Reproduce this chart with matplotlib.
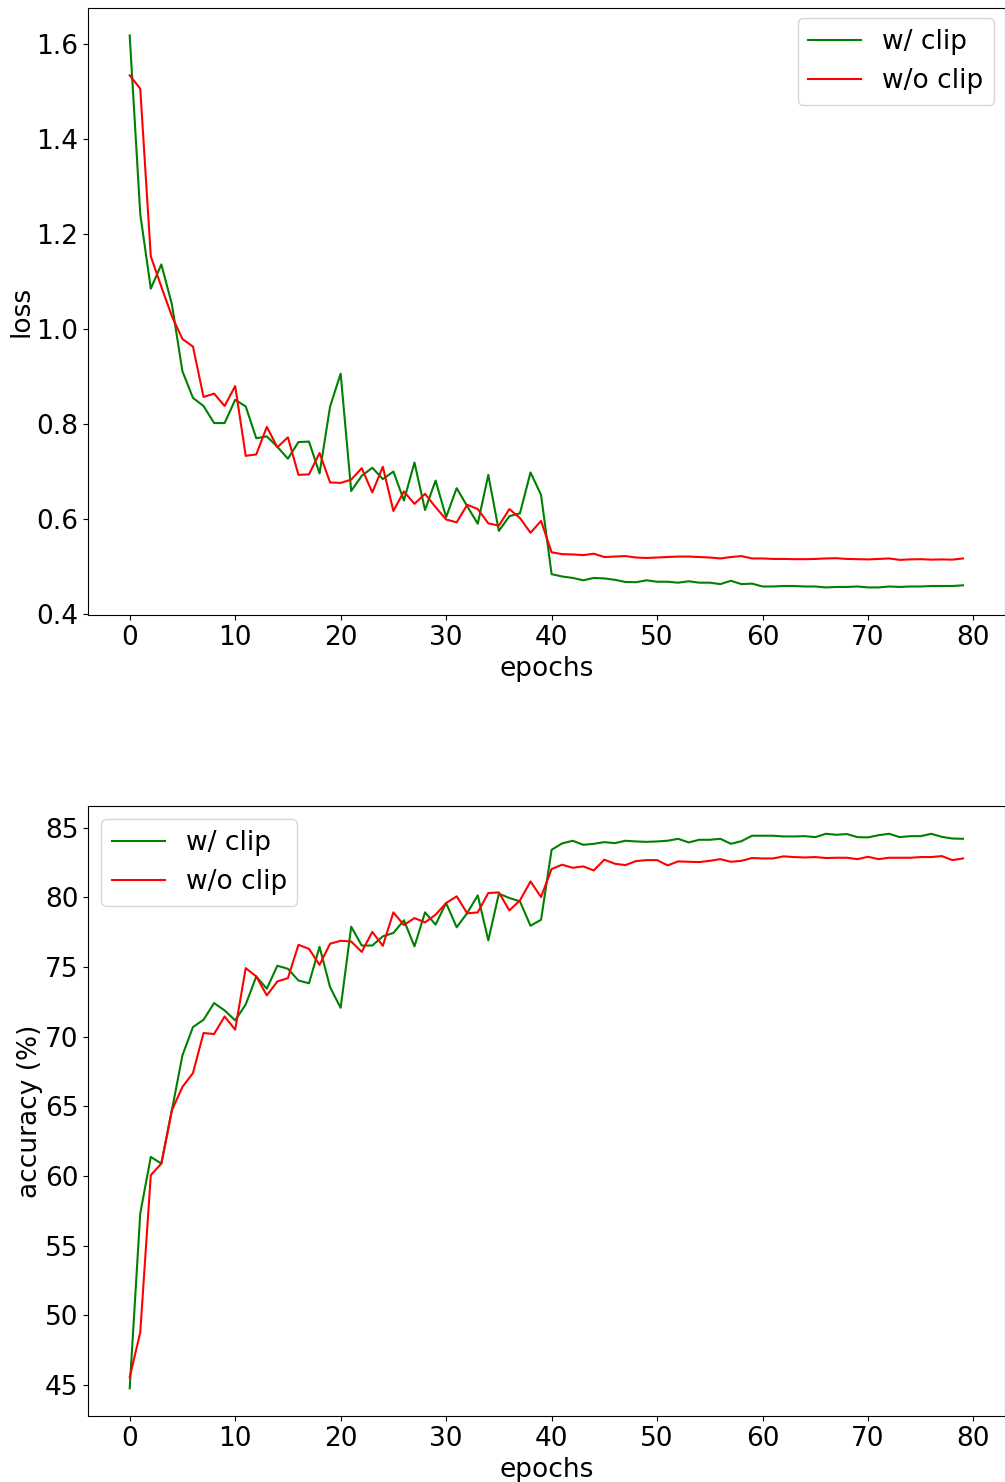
import numpy as np
import matplotlib
matplotlib.use('Agg')
import matplotlib.pyplot as plt

# epochs 0..79
epochs = np.arange(80)

loss_clip = [
    1.617, 1.241, 1.084, 1.135, 1.051, 0.910, 0.854, 0.837, 0.801, 0.801,
    0.850, 0.836, 0.769, 0.773, 0.751, 0.726, 0.761, 0.762, 0.695, 0.836,
    0.905, 0.658, 0.690, 0.707, 0.683, 0.699, 0.638, 0.718, 0.618, 0.680,
    0.603, 0.664, 0.626, 0.589, 0.692, 0.574, 0.605, 0.611, 0.697, 0.650,
    0.483, 0.478, 0.475, 0.470, 0.475, 0.474, 0.471, 0.4665, 0.466, 0.470,
    0.467, 0.467, 0.465, 0.468, 0.465, 0.465, 0.462, 0.469, 0.462, 0.463,
    0.457, 0.457, 0.458, 0.458, 0.457, 0.457, 0.455, 0.456, 0.456, 0.457,
    0.455, 0.455, 0.457, 0.456, 0.457, 0.457, 0.458, 0.458, 0.458, 0.4595,
]
loss_noclip = [
    1.533, 1.505, 1.152, 1.088, 1.026, 0.978, 0.962, 0.856, 0.863, 0.837,
    0.879, 0.732, 0.735, 0.793, 0.750, 0.771, 0.692, 0.693, 0.738, 0.676,
    0.675, 0.682, 0.706, 0.655, 0.709, 0.616, 0.657, 0.631, 0.652, 0.624,
    0.598, 0.592, 0.629, 0.620, 0.590, 0.585, 0.620, 0.601, 0.570, 0.595,
    0.529, 0.525, 0.5245, 0.523, 0.526, 0.519, 0.520, 0.521, 0.518, 0.517,
    0.518, 0.519, 0.520, 0.520, 0.519, 0.518, 0.516, 0.519, 0.521, 0.516,
    0.516, 0.515, 0.515, 0.5145, 0.5145, 0.515, 0.516, 0.5165, 0.515, 0.5145,
    0.514, 0.515, 0.516, 0.513, 0.514, 0.5145, 0.5135, 0.514, 0.5135, 0.516,
]

acc_clip = [
    44.77, 57.32, 61.38, 60.90, 64.73, 68.67, 70.70, 71.22, 72.42, 71.89,
    71.18, 72.32, 74.33, 73.45, 75.10, 74.88, 74.04, 73.84, 76.46, 73.55,
    72.08, 77.90, 76.55, 76.55, 77.21, 77.45, 78.36, 76.49, 78.93, 78.05,
    79.60, 77.86, 78.88, 80.15, 76.92, 80.27, 79.96, 79.72, 77.97, 78.40,
    83.42, 83.88, 84.07, 83.78, 83.85, 83.97, 83.90, 84.07, 84.02, 83.99,
    84.02, 84.07, 84.21, 83.95, 84.14, 84.14, 84.21, 83.85, 84.04, 84.43,
    84.43, 84.43, 84.38, 84.38, 84.40, 84.33, 84.57, 84.50, 84.55, 84.33,
    84.31, 84.47, 84.57, 84.33, 84.40, 84.40, 84.57, 84.35, 84.23, 84.21,
]
acc_noclip = [
    45.56, 48.79, 60.07, 60.90, 64.73, 66.40, 67.40, 70.27, 70.20, 71.46,
    70.51, 74.93, 74.33, 72.97, 73.97, 74.21, 76.60, 76.31, 75.16, 76.68,
    76.89, 76.84, 76.09, 77.53, 76.53, 78.93, 78.02, 78.52, 78.21, 78.76,
    79.60, 80.08, 78.86, 78.93, 80.32, 80.36, 79.07, 79.79, 81.15, 80.03,
    82.04, 82.35, 82.13, 82.23, 81.94, 82.71, 82.42, 82.32, 82.61, 82.68,
    82.68, 82.30, 82.59, 82.56, 82.54, 82.63, 82.75, 82.56, 82.63, 82.83,
    82.80, 82.80, 82.95, 82.90, 82.87, 82.90, 82.83, 82.85, 82.85, 82.75,
    82.92, 82.75, 82.85, 82.85, 82.85, 82.90, 82.90, 82.97, 82.68, 82.80,
]

plt.rcParams['font.size'] = 19

fig = plt.figure(figsize=(10.05, 14.82), dpi=100)

ax1 = fig.add_axes([0.0876, 0.585, 0.912, 0.4097])
ax1.plot(epochs, loss_clip, color='green', label='w/ clip')
ax1.plot(epochs, loss_noclip, color='red', label='w/o clip')
ax1.set_xlabel('epochs')
ax1.set_ylabel('loss', labelpad=1)
ax1.set_xticks(range(0, 81, 10))
ax1.legend(loc='upper right', borderaxespad=0.4)

ax2 = fig.add_axes([0.0876, 0.0445, 0.912, 0.4116])
ax2.plot(epochs, acc_clip, color='green', label='w/ clip')
ax2.plot(epochs, acc_noclip, color='red', label='w/o clip')
ax2.set_xlabel('epochs')
ax2.set_ylabel('accuracy (%)', labelpad=1)
ax2.set_xticks(range(0, 81, 10))
ax2.legend(loc='upper left')

fig.savefig('out.png', dpi=100)
